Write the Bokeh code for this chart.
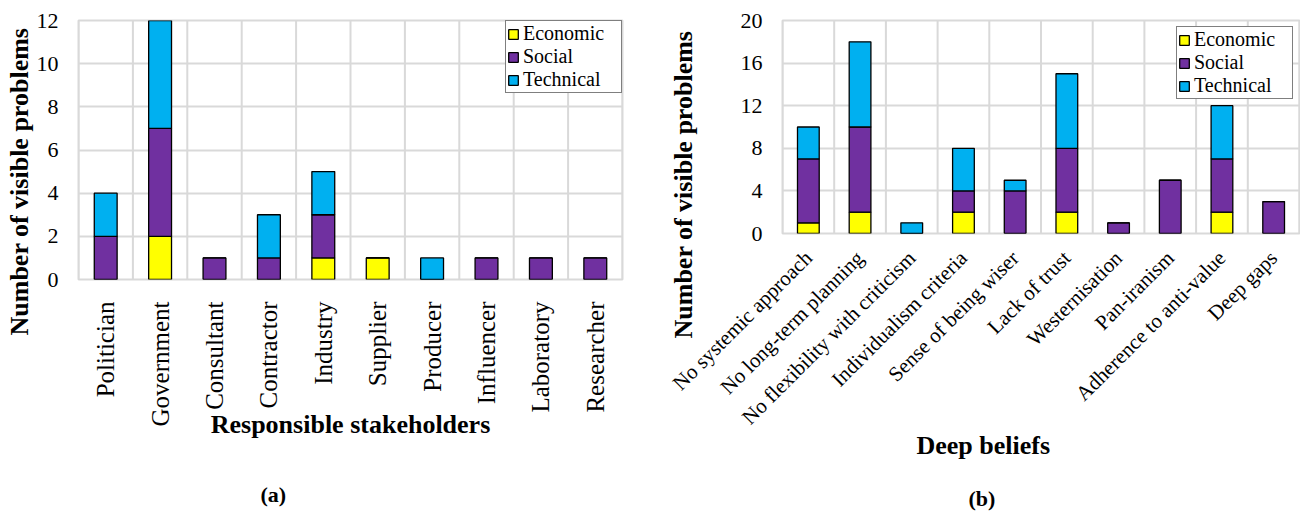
from math import pi
from bokeh.plotting import figure
from bokeh.models import ColumnDataSource, FactorRange, Span, Range1d, FixedTicker, Title
from bokeh.layouts import row, column
from bokeh.embed import file_html
from bokeh.resources import INLINE

# ---- data ----
series = ["Economic", "Social", "Technical"]
colors = ["#FFFF00", "#7030A0", "#00B0F0"]

stakeholders = ["Politician", "Government", "Consultant", "Contractor", "Industry",
                "Supplier", "Producer", "Influencer", "Laboratory", "Researcher"]
a_economic = [0, 2, 0, 0, 1, 1, 0, 0, 0, 0]
a_social = [2, 5, 1, 1, 2, 0, 0, 1, 1, 1]
a_technical = [2, 5, 0, 2, 2, 0, 1, 0, 0, 0]
a_ticks = [0, 2, 4, 6, 8, 10, 12]

beliefs = ["No systemic approach", "No long-term planning", "No flexibility with criticism",
           "Individualism criteria", "Sense of being wiser", "Lack of trust",
           "Westernisation", "Pan-iranism", "Adherence to anti-value", "Deep gaps"]
b_economic = [1, 2, 0, 2, 0, 2, 0, 0, 2, 0]
b_social = [6, 8, 0, 2, 4, 6, 1, 5, 5, 3]
b_technical = [3, 8, 1, 4, 1, 7, 0, 0, 5, 0]
b_ticks = [0, 4, 8, 12, 16, 20]

FONT = "Liberation Serif"
GRID = "#d9d9d9"


def ttl(text, size, align, standoff, offset):
    return Title(text=text, align=align, standoff=standoff, offset=offset,
                 text_font=FONT, text_font_size=size, text_font_style="bold",
                 text_color="black")


def spacer(standoff):
    return Title(text=" ", text_font_size="2px", standoff=standoff)


def make_chart(cats, econ, soc, tech, ticks, width, height, borders, xlab_size,
               orient, xlab_standoff, legend_margin):
    src = ColumnDataSource(dict(cat=cats, Economic=econ, Social=soc, Technical=tech))
    p = figure(x_range=FactorRange(factors=cats), y_range=Range1d(ticks[0], ticks[-1]),
               width=width, height=height, output_backend="svg", toolbar_location=None,
               min_border_left=borders[0], min_border_right=borders[1],
               min_border_top=borders[2], min_border_bottom=borders[3])
    p.background_fill_color = "white"
    p.border_fill_color = "white"
    p.outline_line_color = GRID
    p.outline_line_width = 2

    for i in range(len(cats) + 1):
        p.add_layout(Span(location=i, dimension="height", line_color=GRID,
                          line_width=2, level="underlay"))
    p.xgrid.visible = False
    p.ygrid.grid_line_color = GRID
    p.ygrid.grid_line_width = 2

    p.vbar_stack(series, x="cat", width=0.42, source=src, color=colors,
                 line_color="black", line_width=1.3, legend_label=series)

    p.yaxis.ticker = FixedTicker(ticks=ticks)
    for ax in (p.xaxis, p.yaxis):
        ax.axis_line_color = None
        ax.major_tick_line_color = None
        ax.minor_tick_line_color = None
        ax.major_tick_out = 0
        ax.major_tick_in = 0
        ax.major_label_text_font = FONT
        ax.major_label_text_color = "black"
    p.yaxis.major_label_text_font_size = "22px"
    p.yaxis.major_label_standoff = 20
    p.xaxis.major_label_text_font_size = xlab_size
    p.xaxis.major_label_orientation = orient
    p.xaxis.major_label_standoff = xlab_standoff
    p.xaxis.axis_label_text_font = FONT
    p.xaxis.axis_label_text_font_size = "26px"
    p.xaxis.axis_label_text_font_style = "bold"
    p.xaxis.axis_label_text_color = "black"

    lg = p.legend[0]
    lg.location = "top_right"
    lg.margin = legend_margin
    lg.padding = 1
    lg.spacing = 0
    lg.label_height = 21
    lg.label_width = 97
    lg.glyph_height = 12
    lg.glyph_width = 12
    lg.label_standoff = 4
    lg.label_text_font = FONT
    lg.label_text_font_size = "20px"
    lg.label_text_color = "black"
    lg.border_line_color = "black"
    lg.border_line_width = 1.6
    lg.background_fill_alpha = 1
    return p


pa = make_chart(stakeholders, a_economic, a_social, a_technical, a_ticks,
                width=626, height=512, borders=(78, 4, 20, 233), xlab_size="25px",
                orient=pi / 2, xlab_standoff=22, legend_margin=0)
pa.xaxis.axis_label = "Responsible stakeholders"
pa.xaxis.axis_label_standoff = -19
pa.add_layout(ttl("Number of  visible problems", "26px", "left", 0, -56), "left")
pa.add_layout(spacer(31), "below")
pa.add_layout(ttl("(a)", "22px", "left", 4, 182), "below")

pb = make_chart(beliefs, b_economic, b_social, b_technical, b_ticks,
                width=674, height=512, borders=(150, 1, 20, 274), xlab_size="21px",
                orient=pi / 4, xlab_standoff=21, legend_margin=6)
pb.add_layout(ttl("Number of visible problems", "26px", "left", 80, -105), "left")
pb.add_layout(ttl("Deep beliefs", "26px", "left", -23, 134), "below")
pb.add_layout(spacer(29), "below")
pb.add_layout(ttl("(b)", "22px", "left", 4, 186), "below")

layout = row(column(pa), column(pb))
open("out.html", "w").write(file_html(layout, INLINE))
